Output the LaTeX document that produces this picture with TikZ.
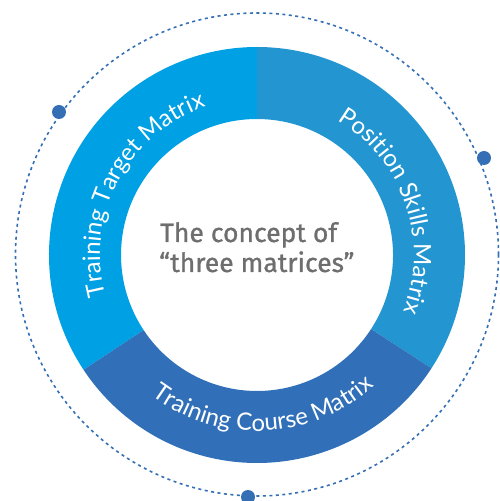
\documentclass[tikz,border=0pt]{standalone}
\usepackage{fontspec}
\setmainfont{Fira Sans}
\newfontfamily\ringfont{Lato}
\newfontfamily\centerfont[FakeBold=1]{Fira Sans}
\usetikzlibrary{decorations.text}
\definecolor{segA}{HTML}{00A0E4}
\definecolor{segB}{HTML}{2396D1}
\definecolor{segC}{HTML}{3170B8}
\definecolor{dotc}{HTML}{346EB5}
\definecolor{txtgray}{HTML}{6E6E6E}
\begin{document}
\begin{tikzpicture}[x=1pt,y=1pt,
  ringlabel/.style={decorate, decoration={text along path,
      text={|\ringfont\fontsize{24}{24}\selectfont|#1},
      text align=center, text color=white}},
  centertext/.style={anchor=base west, inner sep=0pt, text=txtgray,
      font=\centerfont\fontsize{26.5}{26.5}\selectfont},
  dotnode/.style={circle, fill=dotc, minimum size=14pt, inner sep=0pt},
  dotline/.style={dotc, line width=1.6pt, dash pattern=on 3pt off 3.5pt}]
\useasboundingbox (0,0) rectangle (500,501);
\draw[dotline] (257,246.5) circle[radius=241.5];
\begin{scope}[shift={(257,246)}]
  \fill[segA] (213.5:136) -- (213.5:208) arc[start angle=213.5, end angle=90, radius=208]
     -- (90:136) arc[start angle=90, end angle=213.5, radius=136] -- cycle;
  \fill[segB] (90:136) -- (90:208) arc[start angle=90, end angle=-33, radius=208]
     -- (-33:136) arc[start angle=-33, end angle=90, radius=136] -- cycle;
  \fill[segC] (327:136) -- (327:208) arc[start angle=327, end angle=213.5, radius=208]
     -- (213.5:136) arc[start angle=213.5, end angle=327, radius=136] -- cycle;
  \path[ringlabel={Training Target Matrix}] (200:157) arc[start angle=200, end angle=104, radius=157];
  \path[ringlabel={Position Skills Matrix}] (67:157) arc[start angle=67, end angle=-29, radius=157];
  \path[ringlabel={Training Course Matrix}] (225:176) arc[start angle=225, end angle=320, radius=176];
\end{scope}
\node[dotnode] (d1) at (59,389) {};
\node[dotnode] (d2) at (484,343) {};
\node[dotnode] (d3) at (248,4) {};
\node[centertext] (l1) at (160,259) {The concept of};
\node[centertext] (l2) at (159,229) {“three matrices”};
\end{tikzpicture}
\end{document}
